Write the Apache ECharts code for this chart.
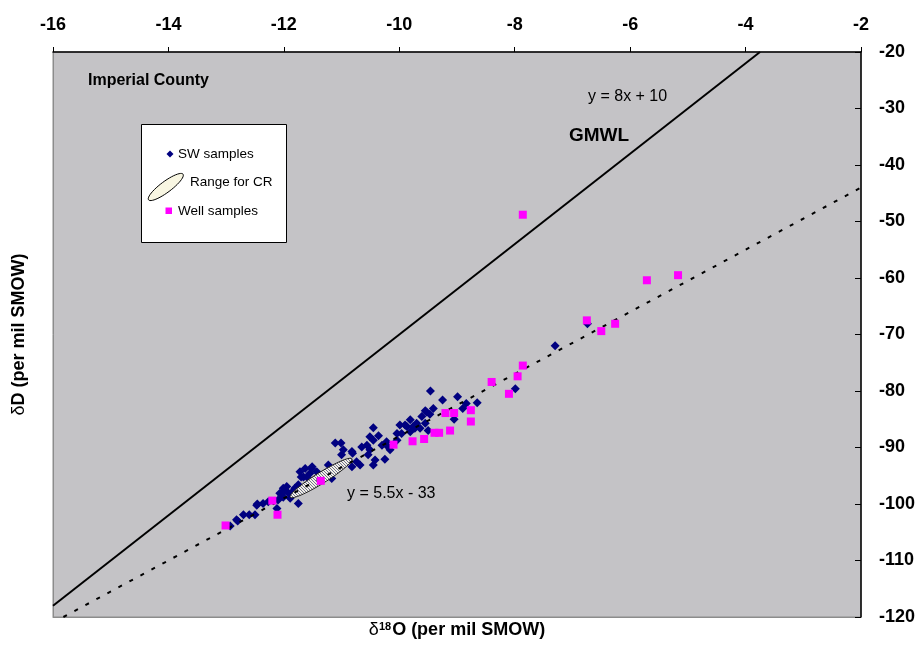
<!DOCTYPE html>
<html><head><meta charset="utf-8">
<script src="https://cdn.jsdelivr.net/npm/echarts@6/dist/echarts.min.js"></script>
<style>html,body{margin:0;padding:0;background:#fff}#c{width:923px;height:645px}</style>
</head><body><div id="c"></div>
<script>
// ---- data ----
const xTicks = [-16, -14, -12, -10, -8, -6, -4, -2];
const yTicks = [-120, -110, -100, -90, -80, -70, -60, -50, -40, -30, -20];

const swSamples = [
  [-12.93,-103.9],[-12.80,-103.0],[-12.82,-102.8],[-12.70,-101.9],[-12.60,-101.9],[-12.50,-101.9],
  [-12.46,-100.0],[-12.47,-100.2],[-12.36,-99.9],[-12.27,-99.6],[-12.12,-100.8],[-12.10,-99.3],
  [-12.04,-98.4],[-11.98,-97.5],[-11.95,-96.9],[-11.89,-99.0],[-11.75,-99.9],[-12.07,-98.1],
  [-11.92,-98.1],[-12.01,-97.2],[-12.01,-98.8],[-11.86,-97.9],[-11.81,-97.2],[-11.75,-96.6],
  [-11.72,-94.3],[-11.70,-95.2],[-11.66,-95.2],[-11.60,-95.2],[-11.63,-93.7],[-11.55,-94.6],
  [-11.52,-93.7],[-11.51,-93.4],[-11.43,-94.3],[-11.23,-93.1],[-11.17,-95.5],[-11.11,-89.2],
  [-11.01,-89.2],[-11.00,-91.3],[-10.97,-90.4],[-10.82,-90.7],[-10.81,-91.0],[-10.74,-92.5],
  [-10.82,-93.4],[-10.68,-93.1],[-10.65,-89.9],[-10.56,-89.6],[-10.54,-91.3],[-10.51,-90.4],
  [-10.51,-88.1],[-10.45,-86.5],[-10.45,-88.7],[-10.45,-93.1],[-10.42,-92.2],[-10.36,-87.9],
  [-10.30,-89.6],[-10.25,-92.1],[-10.22,-89.0],[-10.19,-89.9],[-10.16,-90.4],[-10.04,-88.7],
  [-10.04,-87.5],[-9.99,-86.0],[-9.96,-87.5],[-9.90,-86.0],[-9.87,-86.3],[-9.81,-87.2],
  [-9.81,-85.1],[-9.76,-86.3],[-9.73,-86.6],[-9.70,-85.7],[-9.64,-86.6],[-9.61,-84.5],
  [-9.55,-85.7],[-9.53,-83.7],[-9.55,-83.5],[-9.47,-84.1],[-9.50,-87.0],[-9.46,-80.0],
  [-9.41,-83.1],[-9.25,-81.6],[-9.05,-85.0],[-8.99,-81.0],[-8.90,-83.1],[-8.84,-82.2],
  [-8.65,-82.1],[-7.99,-79.6],[-7.30,-72.0],[-6.74,-68.1]
];

const wellSamples = [
  [-7.86,-48.8],[-5.17,-59.5],[-5.71,-60.4],[-6.75,-67.5],[-6.26,-68.1],[-6.50,-69.4],
  [-7.86,-75.5],[-7.95,-77.4],[-8.40,-78.4],[-8.10,-80.5],[-8.76,-83.4],[-9.05,-83.9],
  [-9.20,-83.9],[-8.76,-85.4],[-9.12,-87.0],[-9.39,-87.4],[-9.31,-87.4],[-9.57,-88.5],
  [-9.77,-88.9],[-10.10,-89.5],[-11.36,-95.9],[-12.20,-99.4],[-12.11,-101.9],[-13.01,-103.8]
];

// GMWL y = 8x + 10 and fitted trend y = 5.5x - 33 (endpoints)
const gmwlLine = [[-16, -118], [-3.75, -20]];
const trendLine = [[-15.82, -120], [-2, -44]];
// Range for CR: major-axis end points (x1, y1, x2, y2)
const crRange = [[-11.89, -98.8, -10.82, -92.0]];

// ---- rendering ----
const FONT = "'Liberation Sans', Arial, sans-serif";
const pat = document.createElement('canvas');
pat.width = 3; pat.height = 3;
(function(){
  const g = pat.getContext('2d');
  g.fillStyle = '#f3f1e4'; g.fillRect(0,0,3,3);
  g.fillStyle = '#6f7090';
  g.fillRect(0,0,1,1); g.fillRect(1,1,1,1); g.fillRect(2,2,1,1);
})();

function ellipsePts(cx, cy, a, b, ang, n) {
  const pts = [];
  const c = Math.cos(ang), s = Math.sin(ang);
  for (let i = 0; i < n; i++) {
    const t = i / n * Math.PI * 2;
    const ex = a * Math.cos(t), ey = b * Math.sin(t);
    pts.push([cx + ex * c - ey * s, cy + ex * s + ey * c]);
  }
  return pts;
}

const chart = echarts.init(document.getElementById('c'), null, {renderer: 'canvas'});

const axisLabelStyle = {color: '#000', fontFamily: FONT, fontWeight: 'bold', fontSize: 18};

chart.setOption({
  animation: false,
  backgroundColor: '#ffffff',
  grid: {left: 53, right: 62, top: 52, bottom: 28, show: true,
         backgroundColor: '#c4c3c6', borderColor: '#8c8c8c', borderWidth: 1},
  xAxis: [{
    type: 'value', position: 'top',
    min: xTicks[0], max: xTicks[xTicks.length - 1], interval: xTicks[1] - xTicks[0],
    axisLine: {show: true, lineStyle: {color: '#000', width: 1.5}},
    axisTick: {show: true, inside: false, length: 5, lineStyle: {color: '#000'}},
    axisLabel: Object.assign({margin: 18}, axisLabelStyle),
    splitLine: {show: false}
  }, {
    type: 'value', position: 'bottom',
    min: xTicks[0], max: xTicks[xTicks.length - 1],
    axisLine: {show: true, lineStyle: {color: '#8c8c8c', width: 1}},
    axisTick: {show: false}, axisLabel: {show: false}, splitLine: {show: false},
    name: '{d|δ}{s|18}{b|O (per mil SMOW)}', nameLocation: 'middle', nameGap: 4,
    nameTextStyle: {
      rich: {
        d: {fontFamily: FONT, fontSize: 18, color: '#000'},
        s: {fontFamily: FONT, fontSize: 11, fontWeight: 'bold', color: '#000', verticalAlign: 'top', padding: [0,1,0,0]},
        b: {fontFamily: FONT, fontSize: 18, fontWeight: 'bold', color: '#000'}
      }
    }
  }],
  yAxis: [{
    type: 'value', position: 'right',
    min: yTicks[0], max: yTicks[yTicks.length - 1], interval: yTicks[1] - yTicks[0],
    axisLine: {show: true, lineStyle: {color: '#000', width: 1.5}},
    axisTick: {show: true, inside: true, length: 6, lineStyle: {color: '#000'}},
    axisLabel: Object.assign({margin: 18}, axisLabelStyle),
    splitLine: {show: false}
  }, {
    type: 'value', position: 'left',
    min: yTicks[0], max: yTicks[yTicks.length - 1],
    axisLine: {show: true, lineStyle: {color: '#8c8c8c', width: 1}},
    axisTick: {show: false}, axisLabel: {show: false}, splitLine: {show: false},
    name: '{d|δ}{b|D (per mil SMOW)}', nameLocation: 'middle', nameGap: 25, nameRotate: 90,
    nameTextStyle: {
      rich: {
        d: {fontFamily: FONT, fontSize: 18, color: '#000'},
        b: {fontFamily: FONT, fontSize: 18, fontWeight: 'bold', color: '#000'}
      }
    }
  }],
  series: [
    {
      name: 'SW samples', type: 'scatter', data: swSamples,
      symbol: 'diamond', symbolSize: 9,
      itemStyle: {color: '#000080', opacity: 1}, z: 3
    },
    {
      name: 'Range for CR', type: 'custom', data: crRange, z: 4,
      encode: {x: [0, 2], y: [1, 3]},
      renderItem: function (params, api) {
        const p1 = api.coord([api.value(0), api.value(1)]);
        const p2 = api.coord([api.value(2), api.value(3)]);
        const cx = (p1[0] + p2[0]) / 2, cy = (p1[1] + p2[1]) / 2;
        const a = Math.hypot(p2[0] - p1[0], p2[1] - p1[1]) / 2;
        const ang = Math.atan2(p2[1] - p1[1], p2[0] - p1[0]);
        return {
          type: 'polygon',
          shape: {points: ellipsePts(cx, cy, a, 5.5, ang, 72)},
          style: {fill: {image: pat, repeat: 'repeat'}, stroke: '#1a1a1a', lineWidth: 1}
        };
      }
    },
    {
      name: 'GMWL', type: 'line', data: gmwlLine, symbol: 'none', z: 5,
      lineStyle: {color: '#000', width: 2}
    },
    {
      name: 'Trend', type: 'line', data: trendLine, symbol: 'none', z: 5,
      lineStyle: {color: '#000', width: 2, type: [4, 8.5]}
    },
    {
      name: 'Well samples', type: 'scatter', data: wellSamples,
      symbol: 'rect', symbolSize: 8,
      itemStyle: {color: '#ff00ff', opacity: 1}, z: 6
    }
  ],
  graphic: [
    {type: 'text', x: 88, y: 81, z: 10,
     style: {text: 'Imperial County', font: "bold 16px " + FONT, fill: '#000', verticalAlign: 'middle'}},
    {type: 'text', x: 588, y: 97, z: 10,
     style: {text: 'y = 8x + 10', font: "16px " + FONT, fill: '#000', verticalAlign: 'middle'}},
    {type: 'text', x: 569, y: 136, z: 10,
     style: {text: 'GMWL', font: "bold 19px " + FONT, fill: '#000', verticalAlign: 'middle'}},
    {type: 'text', x: 347, y: 494, z: 10,
     style: {text: 'y = 5.5x - 33', font: "16px " + FONT, fill: '#000', verticalAlign: 'middle'}},
    // legend box
    {type: 'rect', z: 10, shape: {x: 141.5, y: 124.5, width: 145, height: 118},
     style: {fill: '#ffffff', stroke: '#000', lineWidth: 1}},
    {type: 'polygon', z: 11, shape: {points: [[170, 150.5], [173.5, 154], [170, 157.5], [166.5, 154]]},
     style: {fill: '#000080'}},
    {type: 'text', x: 178, y: 154, z: 11,
     style: {text: 'SW samples', font: "13.5px " + FONT, fill: '#000', verticalAlign: 'middle'}},
    {type: 'polygon', z: 11, shape: {points: ellipsePts(165.8, 187, 21.5, 5.5, -0.64, 48)},
     style: {fill: '#f8f6e2', stroke: '#000', lineWidth: 1}},
    {type: 'text', x: 190, y: 182, z: 11,
     style: {text: 'Range for CR', font: "13.5px " + FONT, fill: '#000', verticalAlign: 'middle'}},
    {type: 'rect', z: 11, shape: {x: 165.5, y: 207.5, width: 6.5, height: 6.5},
     style: {fill: '#ff00ff'}},
    {type: 'text', x: 178, y: 211, z: 11,
     style: {text: 'Well samples', font: "13.5px " + FONT, fill: '#000', verticalAlign: 'middle'}}
  ]
});
</script>
</body></html>
